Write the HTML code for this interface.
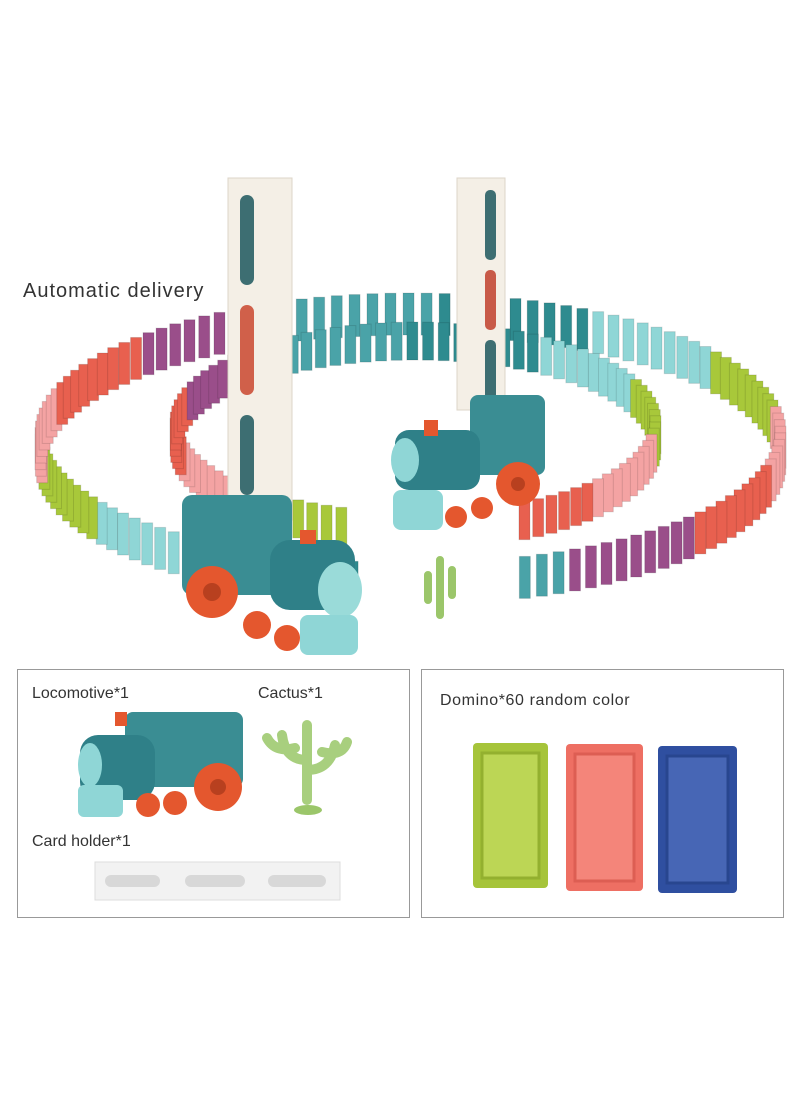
<!DOCTYPE html>
<html><head><meta charset="utf-8"><style>
html,body{margin:0;padding:0;background:#fff;width:803px;height:1095px;overflow:hidden}
svg{display:block}
text{font-family:"Liberation Sans",sans-serif;fill:#333}
</style></head><body>
<svg id="s" width="803" height="1095" viewBox="0 0 803 1095" xmlns="http://www.w3.org/2000/svg">
<rect width="803" height="1095" fill="#fff"/>
<g id="dom"></g>
<rect x="228" y="178" width="64" height="342" fill="#f4efe6" stroke="#ddd5c8"/>
<rect x="240" y="195" width="14" height="90" rx="7" fill="#3d6e72"/>
<rect x="240" y="305" width="14" height="90" rx="7" fill="#d0604a"/>
<rect x="240" y="415" width="14" height="80" rx="7" fill="#3d6e72"/>
<rect x="457" y="178" width="48" height="232" fill="#f4efe6" stroke="#ddd5c8"/>
<rect x="485" y="190" width="11" height="70" rx="5" fill="#3d6e72"/>
<rect x="485" y="270" width="11" height="60" rx="5" fill="#c85a48"/>
<rect x="485" y="340" width="11" height="60" rx="5" fill="#3d6e72"/>
<g>
<rect x="182" y="495" width="110" height="100" rx="10" fill="#3a8d93"/>
<rect x="270" y="540" width="85" height="70" rx="20" fill="#2f8088"/>
<ellipse cx="340" cy="590" rx="22" ry="28" fill="#9adbd9"/>
<rect x="300" y="530" width="16" height="14" fill="#e4572e"/>
<circle cx="212" cy="592" r="26" fill="#e4572e"/><circle cx="212" cy="592" r="9" fill="#b8401f"/>
<circle cx="257" cy="625" r="14" fill="#e4572e"/><circle cx="287" cy="638" r="13" fill="#e4572e"/>
<rect x="300" y="615" width="58" height="40" rx="8" fill="#8fd6d6"/>
</g>
<g>
<rect x="470" y="395" width="75" height="80" rx="8" fill="#3a8d93"/>
<rect x="395" y="430" width="85" height="60" rx="14" fill="#2f8088"/>
<ellipse cx="405" cy="460" rx="14" ry="22" fill="#8fd6d6"/>
<rect x="424" y="420" width="14" height="16" fill="#e4572e"/>
<circle cx="518" cy="484" r="22" fill="#e4572e"/><circle cx="518" cy="484" r="7" fill="#b8401f"/>
<circle cx="456" cy="517" r="11" fill="#e4572e"/><circle cx="482" cy="508" r="11" fill="#e4572e"/>
<rect x="393" y="490" width="50" height="40" rx="8" fill="#8fd6d6"/>
</g>
<path d="M440 615 l0-55 M428 600 l0-25 M452 595 l0-25" stroke="#9bc66a" stroke-width="8" stroke-linecap="round"/>
<text x="23" y="297" font-size="20" letter-spacing="1">Automatic delivery</text>
<rect x="17.5" y="669.5" width="392" height="248" fill="none" stroke="#999"/>
<rect x="421.5" y="669.5" width="362" height="248" fill="none" stroke="#999"/>
<text x="32" y="698" font-size="16">Locomotive*1</text>
<text x="258" y="698" font-size="16">Cactus*1</text>
<text x="32" y="846" font-size="16">Card holder*1</text>
<text x="440" y="705" font-size="16" letter-spacing="0.6">Domino*60 random color</text>
<rect x="125" y="712" width="118" height="75" rx="8" fill="#3a8d93"/>
<rect x="80" y="735" width="75" height="65" rx="18" fill="#2f8088"/>
<ellipse cx="90" cy="765" rx="12" ry="22" fill="#8fd6d6"/>
<rect x="115" y="712" width="12" height="14" fill="#e4572e"/>
<circle cx="218" cy="787" r="24" fill="#e4572e"/><circle cx="218" cy="787" r="8" fill="#b8401f"/>
<circle cx="148" cy="805" r="12" fill="#e4572e"/><circle cx="175" cy="803" r="12" fill="#e4572e"/>
<rect x="78" y="785" width="45" height="32" rx="6" fill="#8fd6d6"/>
<path d="M307 800 V725 M307 760 Q285 760 282 735 M307 770 Q330 770 335 745 M295 748 q-20 5 -28 -10 M322 752 q20 5 25 -10" stroke="#a8cf7e" stroke-width="10" fill="none" stroke-linecap="round"/>
<ellipse cx="308" cy="810" rx="14" ry="5" fill="#9bc66a"/>
<rect x="95" y="862" width="245" height="38" fill="#f2f2f2" stroke="#ddd"/>
<rect x="105" y="875" width="55" height="12" rx="6" fill="#d8d8d8"/>
<rect x="185" y="875" width="60" height="12" rx="6" fill="#d8d8d8"/>
<rect x="268" y="875" width="58" height="12" rx="6" fill="#d8d8d8"/>
<rect x="473" y="743" width="75" height="145" rx="4" fill="#a6c43a"/>
<rect x="482" y="753" width="57" height="125" fill="#bcd655" stroke="#93b02f" stroke-width="3"/>
<rect x="566" y="744" width="77" height="147" rx="4" fill="#ee6f63"/>
<rect x="575" y="754" width="59" height="127" fill="#f4857a" stroke="#dd5e53" stroke-width="3"/>
<rect x="658" y="746" width="79" height="147" rx="4" fill="#2f4fa0"/>
<rect x="667" y="756" width="61" height="127" fill="#4766b5" stroke="#28468f" stroke-width="3"/>
</svg>
<script>
var g=document.getElementById('dom'),ns='http://www.w3.org/2000/svg';
var cols=['#2e8b8f','#8fd6d6','#a8c83a','#f4a3a3','#e8604f','#9a4e8a','#4aa3a8'];
function ring(cx,cy,rx,ry,t0,t1,n,h,shift){
 for(var i=0;i<n;i++){var t=t0+(t1-t0)*i/(n-1);
  var x=cx+rx*Math.cos(t),y=cy+ry*Math.sin(t);
  var r=document.createElementNS(ns,'rect');
  r.setAttribute('x',x-5);r.setAttribute('y',y-h);r.setAttribute('width',11);r.setAttribute('height',h);
  r.setAttribute('fill',cols[Math.floor((i+shift)/9)%cols.length]);
  r.setAttribute('stroke','rgba(0,0,0,0.12)');
  g.appendChild(r);}
}
ring(410,470,370,135,Math.PI*0.55,Math.PI*2.4,120,42,0);
ring(415,455,240,95,Math.PI*0.6,Math.PI*2.35,85,38,20);
</script>
</body></html>
